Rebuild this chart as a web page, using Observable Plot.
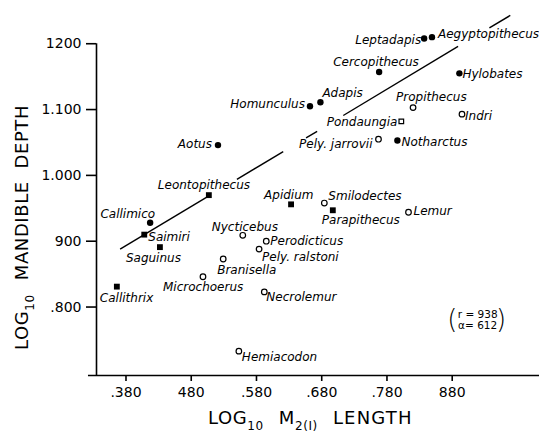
<!DOCTYPE html>
<html>
<head>
<meta charset="utf-8">
<script src="https://cdn.jsdelivr.net/npm/d3@7"></script>
<script src="https://cdn.jsdelivr.net/npm/@observablehq/plot@0.6"></script>
<style>
  html, body { margin: 0; padding: 0; background: #fff; }
  #chart svg { display: block; }
</style>
</head>
<body>
<div id="chart"></div>
<script>
// ---- data ----
const genus = ["Callithrix","Callimico","Saimiri","Saguinus","Leontopithecus","Aotus","Homunculus","Adapis",
  "Cercopithecus","Leptadapis","Aegyptopithecus","Hylobates","Propithecus","Indri","Pondaungia","Pely. jarrovii",
  "Notharctus","Apidium","Smilodectes","Parapithecus","Lemur","Nycticebus","Perodicticus","Pely. ralstoni",
  "Branisella","Microchoerus","Necrolemur","Hemiacodon"];
const logM2Length = [0.366,0.417,0.408,0.432,0.507,0.521,0.662,0.678,
  0.768,0.837,0.849,0.891,0.820,0.895,0.802,0.767,
  0.796,0.633,0.684,0.697,0.813,0.559,0.595,0.584,
  0.529,0.498,0.592,0.553];
const logMandibleDepth = [0.831,0.928,0.910,0.891,0.970,1.046,1.105,1.111,
  1.157,1.208,1.210,1.155,1.103,1.093,1.082,1.055,
  1.053,0.956,0.958,0.947,0.944,0.909,0.900,0.888,
  0.873,0.846,0.823,0.733];
const markerType = ["filledSquare","filledCircle","filledSquare","filledSquare","filledSquare","filledCircle","filledCircle","filledCircle",
  "filledCircle","filledCircle","filledCircle","filledCircle","openCircle","openCircle","openSquare","openCircle",
  "filledCircle","filledSquare","openCircle","filledSquare","openCircle","openCircle","openCircle","openCircle",
  "openCircle","openCircle","openCircle","openCircle"];

// fitted regression line (drawn broken, as in the original)
const fitSegX = [[0.371,0.509],[0.550,0.621],[0.656,0.673],[0.713,0.889],[0.937,0.969]];
const fitSegY = [[0.888,0.970],[0.994,1.036],[1.057,1.067],[1.091,1.196],[1.224,1.243]];

const xTicks = [0.38,0.48,0.58,0.68,0.78,0.88];
const xTickLabels = [".380","480",".580",".680",".780","880"];
const yTicks = [0.8,0.9,1.0,1.1,1.2];
const yTickLabels = [".800","900","1.000","1.100","1200"];

const statLines = ["r = 938","α= 612"];

// ---- label placement (layout only) ----
const labelPlace = [
  ["start",-17,12],["end",5,-9],["start",4,3],["start",-34,11],["start",-51,-10],["end",-6,-1],["end",-5,-2],["start",2,-9],
  ["start",-46,-10],["end",-3,2],["start",6,-3],["start",3,1],["start",-17,-10],["start",3,2],["end",-4,1],["end",-6,5],
  ["start",4,2],["start",-27,-9],["start",4,-7],["start",-11,10],["start",5,-1],["start",-31,-8],["start",4,0],["start",3,8],
  ["start",-6,11],["start",-40,10],["start",2,5],["start",3,6]
];

const rows = genus.map((g, i) => ({genus: g, x: logM2Length[i], y: logMandibleDepth[i], marker: markerType[i]}));
const segs = fitSegX.map((sx, i) => ({x1: sx[0], x2: sx[1], y1: fitSegY[i][0], y2: fitSegY[i][1]}));

const xDomain = [0.3348, 1.0138];
const yDomain = [0.696, 1.252];

const labelMarks = rows.map((r, i) => Plot.text([r], {
  x: "x", y: "y", text: "genus",
  textAnchor: labelPlace[i][0], dx: labelPlace[i][1], dy: labelPlace[i][2],
  fontStyle: "italic", fontSize: 12, fill: "black"
}));

const plot = Plot.plot({
  width: 539, height: 432,
  marginLeft: 96, marginRight: 0, marginTop: 9, marginBottom: 57,
  x: {domain: xDomain},
  y: {domain: yDomain},
  style: {fontFamily: "DejaVu Sans, sans-serif", fontSize: "12px", background: "white", color: "black"},
  marks: [
    Plot.ruleY([yDomain[0]], {x1: 0.3225, x2: xDomain[1], stroke: "black", strokeWidth: 1.6}),
    Plot.ruleX([xDomain[0]], {y1: yDomain[0], y2: 1.2, stroke: "black", strokeWidth: 1.6}),
    Plot.axisX({ticks: xTicks, tickFormat: (d, i) => xTickLabels[i], tickSize: 6, tickPadding: 6,
      fontSize: 14, label: null, strokeWidth: 1.6}),
    Plot.axisY({ticks: yTicks, tickFormat: (d, i) => yTickLabels[i], tickSize: 10, tickPadding: 5,
      fontSize: 14, label: null, strokeWidth: 1.6}),
    Plot.link(segs, {x1: "x1", y1: "y1", x2: "x2", y2: "y2", stroke: "black", strokeWidth: 1.4}),
    Plot.dot(rows.filter(d => d.marker === "filledCircle"), {x: "x", y: "y", r: 3.2, fill: "black", symbol: "circle"}),
    Plot.dot(rows.filter(d => d.marker === "filledSquare"), {x: "x", y: "y", r: 3.3, fill: "black", symbol: "square"}),
    Plot.dot(rows.filter(d => d.marker === "openCircle"), {x: "x", y: "y", r: 2.8, fill: "white", stroke: "black", strokeWidth: 1.2, symbol: "circle"}),
    Plot.dot(rows.filter(d => d.marker === "openSquare"), {x: "x", y: "y", r: 2.6, fill: "white", stroke: "black", strokeWidth: 1.2, symbol: "square"}),
    ...labelMarks,
    Plot.text(statLines, {x: 0.919, y: (d, i) => [0.789, 0.772][i], text: d => d, fontSize: 10.5, textAnchor: "middle"}),
    Plot.text(["(", ")"], {x: (d, i) => [0.880, 0.955][i], y: 0.781, text: d => d, fontSize: 26, fontWeight: 200, textAnchor: "middle"})
  ]
});

const svg = d3.select(plot);
// x-axis title with subscripts
const xt = svg.append("text")
  .attr("x", 208).attr("y", 424).attr("text-anchor", "start")
  .attr("font-family", "DejaVu Sans, sans-serif").attr("font-size", 18)
  .attr("letter-spacing", 0.6).attr("fill", "black");
xt.append("tspan").text("LOG");
xt.append("tspan").attr("font-size", 12).attr("dy", 6).text("10");
xt.append("tspan").attr("dy", -6).attr("dx", 15).text("M");
xt.append("tspan").attr("font-size", 12).attr("dy", 6).text("2(I)");
xt.append("tspan").attr("dy", -6).attr("dx", 15).attr("letter-spacing", 1.2).text("LENGTH");

// y-axis title with subscript
const yt = svg.append("text")
  .attr("transform", "translate(28,350) rotate(-90)").attr("text-anchor", "start")
  .attr("font-family", "DejaVu Sans, sans-serif").attr("font-size", 18)
  .attr("letter-spacing", 0.6).attr("fill", "black");
yt.append("tspan").text("LOG");
yt.append("tspan").attr("font-size", 12).attr("dy", 6).text("10");
yt.append("tspan").attr("dy", -6).attr("dx", 14).text("MANDIBLE  DEPTH");

document.getElementById("chart").appendChild(plot);
</script>
</body>
</html>
